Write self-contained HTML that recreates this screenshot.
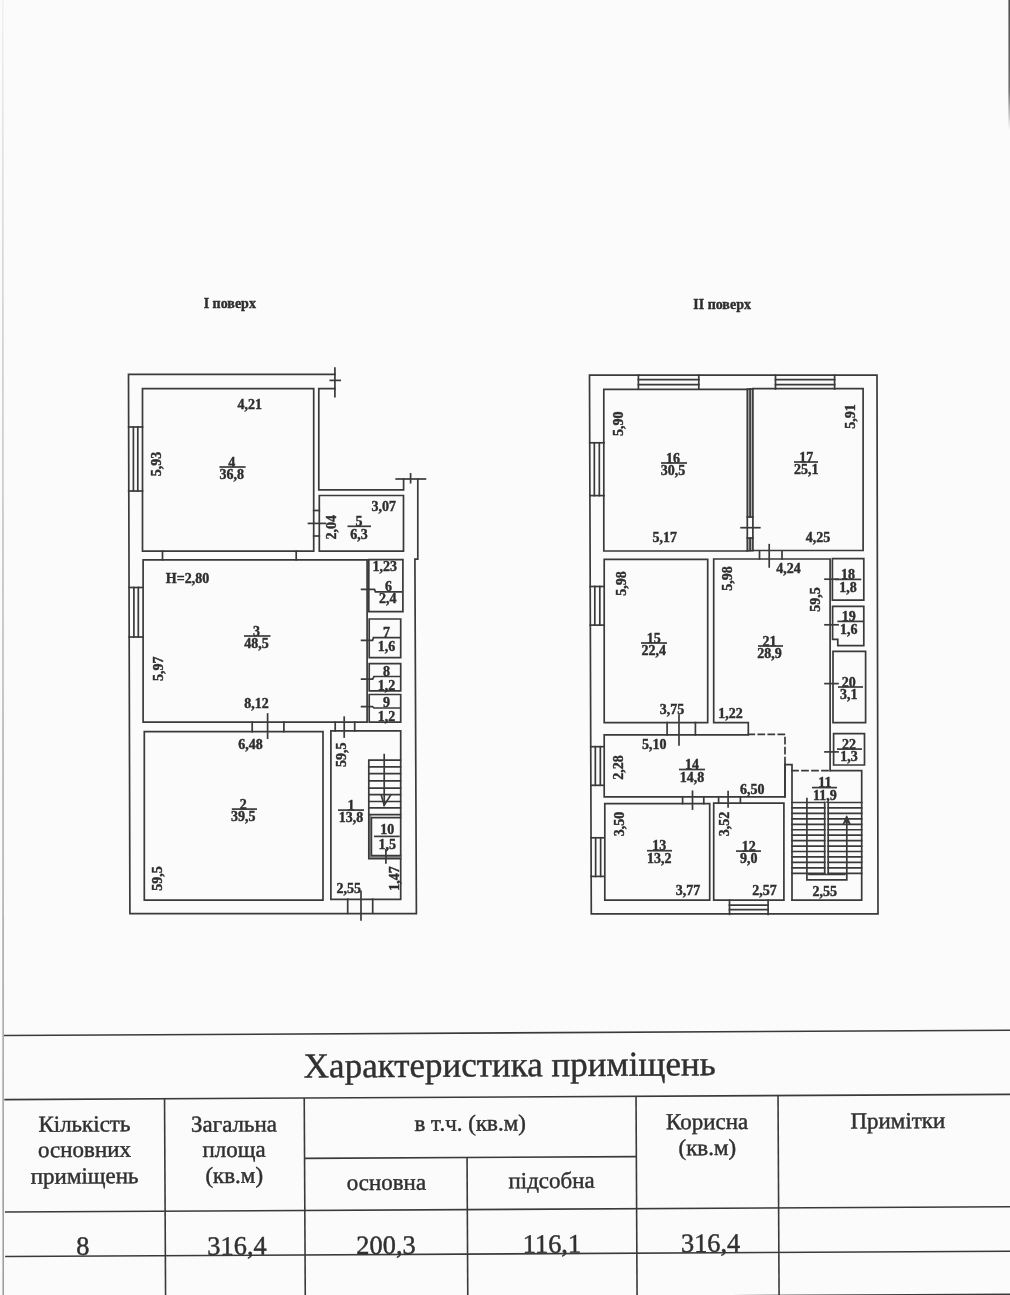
<!DOCTYPE html>
<html><head><meta charset="utf-8"><style>
html,body{margin:0;padding:0;background:#fbfbfb;}
body{width:1010px;height:1295px;overflow:hidden;position:relative;}
svg{position:absolute;left:0;top:0;display:block;will-change:transform;}
.pl line,.pl path{stroke:#3a3a3a;stroke-width:1.7;fill:none;stroke-linecap:square;}
.pt text{font-family:"Liberation Serif",serif;font-weight:bold;font-size:14px;fill:#2e2e2e;stroke:#2e2e2e;stroke-width:0.4px;}
.pt line,.pt path{stroke:#3a3a3a;stroke-width:1.7;fill:none;}
.tb line{stroke:#3a3a3a;stroke-width:1.6;}
.tt text{font-family:"Liberation Serif",serif;fill:#303030;stroke:#303030;stroke-width:0.45px;}
.tt2 text{font-family:"Liberation Serif",serif;fill:#2a2a2a;}
</style></head><body>
<svg width="1010" height="1295" viewBox="0 0 1010 1295">
<rect x="0" y="0" width="1010" height="1295" fill="#fbfbfb"/>
<defs><linearGradient id="lg" x1="0" y1="0" x2="0" y2="1295" gradientUnits="userSpaceOnUse"><stop offset="0" stop-color="#f0f0f0"/><stop offset="0.2" stop-color="#d0d0d0"/><stop offset="0.6" stop-color="#a8a8a8"/><stop offset="1" stop-color="#909090"/></linearGradient>
<linearGradient id="rg" x1="0" y1="0" x2="0" y2="130" gradientUnits="userSpaceOnUse"><stop offset="0" stop-color="#505050"/><stop offset="0.7" stop-color="#707070"/><stop offset="1" stop-color="#fbfbfb"/></linearGradient></defs>
<line x1="2.8" y1="0" x2="3.2" y2="1295" stroke="url(#lg)" stroke-width="1.4"/>
<rect x="1008.4" y="0" width="1.6" height="130" fill="url(#rg)"/>
<g class="pl">
<path d="M334.9,374.3H128.5L129.9,913.7H416.4L414.9,559.1H417.8V479" />
<line x1="334.9" y1="368" x2="334.9" y2="396.6"/>
<line x1="330.3" y1="380.4" x2="340.2" y2="380.4"/>
<path d="M334.9,388.7H318.8V489.8H403.6V479" />
<line x1="396.2" y1="479" x2="425.4" y2="479"/>
<line x1="410.6" y1="473.9" x2="410.6" y2="482.7"/>
<path d="M142.5,388.7H313.7V551.2H142.5Z" />
<line x1="128.7" y1="427" x2="142.5" y2="427"/>
<line x1="128.7" y1="491" x2="142.5" y2="491"/>
<line x1="133.4" y1="427" x2="133.4" y2="491" stroke-width="1.5"/>
<line x1="137.8" y1="427" x2="137.8" y2="491" stroke-width="1.5"/>
<path d="M319.3,495.5H403.5V551.2H319.3Z" />
<line x1="313.7" y1="510.5" x2="319.3" y2="510.5"/>
<line x1="313.7" y1="536" x2="319.3" y2="536"/>
<line x1="308.5" y1="523.4" x2="325.3" y2="523.4"/>
<line x1="162.5" y1="551.2" x2="162.5" y2="559.8"/>
<line x1="296.2" y1="551.2" x2="296.2" y2="559.8"/>
<path d="M143.1,559.8H367.1V722.2H143.1Z" />
<line x1="129.2" y1="587.5" x2="143.1" y2="587.5"/>
<line x1="129.2" y1="637" x2="143.1" y2="637"/>
<line x1="133.9" y1="587.5" x2="133.9" y2="637" stroke-width="1.5"/>
<line x1="138.3" y1="587.5" x2="138.3" y2="637" stroke-width="1.5"/>
<path d="M368.8,559.6H402.9V611.7H368.8Z" />
<path d="M369.2,619H400.7V657.7H369.2Z" />
<path d="M369.2,663.7H400.7V690.9H369.2Z" />
<path d="M369.2,694.5H400.7V722.2H369.2Z" />
<path d="M361.6,589.4H374.5L375.4,591.8H401.2" fill="none"/>
<path d="M361.6,640.4H372.6L373.4,637.7H399.7" fill="none"/>
<path d="M361.6,679.1H372.6L374,676.5H399.7" fill="none"/>
<path d="M361.6,706.7H372.6L374,708H399.7" fill="none"/>
<line x1="252.2" y1="722.2" x2="252.2" y2="731.7"/>
<line x1="283.9" y1="722.2" x2="283.9" y2="731.7"/>
<line x1="267.6" y1="714" x2="267.6" y2="738.2"/>
<line x1="335.2" y1="722.2" x2="335.2" y2="731"/>
<line x1="354.7" y1="722.2" x2="354.7" y2="731"/>
<line x1="344.2" y1="717.2" x2="344.2" y2="737"/>
<path d="M144.3,731.7H323V900.2H144.3Z" />
<path d="M330.9,730.9H400.7V899.3H330.9Z" />
<path d="M368.8,814.6H371.4V855.7H400.5V858.7H368.8Z" style="fill:#9a9a9a;stroke:none"/>
<path d="M400.5,760.2H368.8V858.7H400.5" fill="none"/>
<line x1="368.8" y1="766.8" x2="400.5" y2="766.8"/>
<line x1="368.8" y1="773.6" x2="400.5" y2="773.6"/>
<line x1="368.8" y1="780.9" x2="400.5" y2="780.9"/>
<line x1="368.8" y1="788.1" x2="400.5" y2="788.1"/>
<line x1="368.8" y1="794.7" x2="400.5" y2="794.7"/>
<line x1="368.8" y1="801.5" x2="400.5" y2="801.5"/>
<line x1="368.8" y1="807.8" x2="400.5" y2="807.8"/>
<line x1="368.8" y1="814.6" x2="400.5" y2="814.6"/>
<path d="M400.5,817.6H371.4V855.7H400.5" fill="none"/>
<line x1="384.2" y1="754.6" x2="384.2" y2="805.2"/>
<path d="M381.3,795.3L384.2,805.2L390.5,795.3" fill="none"/>
<line x1="385.9" y1="849.8" x2="385.9" y2="863"/>
<line x1="347.7" y1="899.3" x2="347.7" y2="913.3"/>
<line x1="372.7" y1="899.3" x2="372.7" y2="913.3"/>
<line x1="361" y1="891.3" x2="361" y2="920"/>
<rect x="747.3" y="389" width="5.6" height="161.5" fill="#b4b4b4" stroke="none" style="stroke:none"/>
<rect x="747.3" y="517" width="5.6" height="21.1" fill="#fbfbfb" stroke="none" style="stroke:none"/>
<path d="M589.5,375.2H877L878,913.8H591.3Z" />
<path d="M603.8,389.3H747.3V551H603.8Z" />
<path d="M752.9,388.7H863.1V550.5H752.9Z" />
<line x1="747.3" y1="389.2" x2="752.9" y2="389"/>
<line x1="747.3" y1="550.9" x2="752.9" y2="550.6"/>
<line x1="750.1" y1="389" x2="750.1" y2="517"/>
<line x1="750.1" y1="538.1" x2="750.1" y2="550.5"/>
<line x1="747.3" y1="517" x2="752.9" y2="517"/>
<line x1="747.3" y1="538.1" x2="752.9" y2="538.1"/>
<line x1="741.1" y1="527.7" x2="759.8" y2="527.7"/>
<line x1="638.4" y1="375.2" x2="638.4" y2="389"/>
<line x1="698.8" y1="375.2" x2="698.8" y2="389"/>
<line x1="638.4" y1="379.7" x2="698.8" y2="379.7" stroke-width="1.5"/>
<line x1="638.4" y1="384.6" x2="698.8" y2="384.6" stroke-width="1.5"/>
<line x1="775.5" y1="375.2" x2="775.5" y2="389"/>
<line x1="834.6" y1="375.2" x2="834.6" y2="389"/>
<line x1="775.5" y1="379.7" x2="834.6" y2="379.7" stroke-width="1.5"/>
<line x1="775.5" y1="384.6" x2="834.6" y2="384.6" stroke-width="1.5"/>
<line x1="589.73" y1="442.8" x2="604" y2="442.8"/>
<line x1="589.9" y1="495.6" x2="604" y2="495.6"/>
<line x1="594.33" y1="442.8" x2="594.33" y2="495.6" stroke-width="1.5"/>
<line x1="599.33" y1="442.8" x2="599.33" y2="495.6" stroke-width="1.5"/>
<line x1="590.21" y1="586.5" x2="604" y2="586.5"/>
<line x1="590.33" y1="625.1" x2="604" y2="625.1"/>
<line x1="594.81" y1="586.5" x2="594.81" y2="625.1" stroke-width="1.5"/>
<line x1="599.81" y1="586.5" x2="599.81" y2="625.1" stroke-width="1.5"/>
<line x1="590.74" y1="746.7" x2="604" y2="746.7"/>
<line x1="590.87" y1="785.3" x2="604" y2="785.3"/>
<line x1="595.34" y1="746.7" x2="595.34" y2="785.3" stroke-width="1.5"/>
<line x1="600.34" y1="746.7" x2="600.34" y2="785.3" stroke-width="1.5"/>
<line x1="591.04" y1="837.8" x2="604" y2="837.8"/>
<line x1="591.17" y1="876.4" x2="604" y2="876.4"/>
<line x1="595.64" y1="837.8" x2="595.64" y2="876.4" stroke-width="1.5"/>
<line x1="600.64" y1="837.8" x2="600.64" y2="876.4" stroke-width="1.5"/>
<line x1="759.5" y1="551" x2="759.5" y2="558.9"/>
<line x1="782" y1="551" x2="782" y2="558.9"/>
<line x1="769.2" y1="544.7" x2="769.2" y2="566.9"/>
<path d="M604.2,559.4H707.7V722.6H604.2Z" />
<path d="M748.3,734V722.6H713.7V559H830.1V770.6" fill="none"/>
<line x1="667.1" y1="722.6" x2="667.1" y2="734.9"/>
<line x1="695.4" y1="722.6" x2="695.4" y2="734.9"/>
<line x1="679" y1="715.2" x2="679" y2="744.8"/>
<path d="M748.3,734.9H604.2V796.8H785V764.4" fill="none"/>
<path d="M748.3,734.4H785V764.4" fill="none" stroke-dasharray="6,4"/>
<path d="M785,796.8V764.6H792V900.2" fill="none"/>
<path d="M792,770.6H830.5" fill="none" stroke-dasharray="6,4"/>
<path d="M830.5,770.6H861.7V900.2H792" fill="none"/>
<path d="M604.8,803.6H709.7V900.2H604.8Z" />
<path d="M713.7,803.2H783.9V900.2H713.7Z" />
<line x1="682.6" y1="796.8" x2="682.6" y2="803.6"/>
<line x1="703.8" y1="796.8" x2="703.8" y2="803.6"/>
<line x1="692.5" y1="791.3" x2="692.5" y2="809.1"/>
<line x1="718.6" y1="796.8" x2="718.6" y2="803.2"/>
<line x1="740.4" y1="796.8" x2="740.4" y2="803.2"/>
<line x1="728.1" y1="791.7" x2="728.1" y2="807"/>
<line x1="729.5" y1="900.2" x2="729.5" y2="914.3"/>
<line x1="768.1" y1="900.2" x2="768.1" y2="914.3"/>
<line x1="729.5" y1="905.2" x2="768.1" y2="905.2" stroke-width="1.5"/>
<line x1="729.5" y1="909.6" x2="768.1" y2="909.6" stroke-width="1.5"/>
<path d="M832.4,558.6H863.8V600.2H832.4Z" />
<path d="M832.6,639.3V606.3H863.8V645.6H837.8V639.3Z" fill="none"/>
<path d="M833,651.3H865.6V722.6H833Z" />
<path d="M833.6,733.6H864.5V765H833.6Z" />
<line x1="825" y1="579.2" x2="838" y2="579.2"/>
<line x1="825" y1="624.8" x2="838" y2="624.8"/>
<line x1="825" y1="683.6" x2="838" y2="683.6"/>
<line x1="825" y1="751.9" x2="838" y2="751.9"/>
<line x1="792" y1="802.5" x2="824.7" y2="802.5"/>
<line x1="828.2" y1="802.5" x2="861.7" y2="802.5"/>
<line x1="792" y1="807.9461538461538" x2="824.7" y2="807.9461538461538"/>
<line x1="828.2" y1="807.9461538461538" x2="861.7" y2="807.9461538461538"/>
<line x1="792" y1="813.3923076923077" x2="824.7" y2="813.3923076923077"/>
<line x1="828.2" y1="813.3923076923077" x2="861.7" y2="813.3923076923077"/>
<line x1="792" y1="818.8384615384615" x2="824.7" y2="818.8384615384615"/>
<line x1="828.2" y1="818.8384615384615" x2="861.7" y2="818.8384615384615"/>
<line x1="792" y1="824.2846153846153" x2="824.7" y2="824.2846153846153"/>
<line x1="828.2" y1="824.2846153846153" x2="861.7" y2="824.2846153846153"/>
<line x1="792" y1="829.7307692307692" x2="824.7" y2="829.7307692307692"/>
<line x1="828.2" y1="829.7307692307692" x2="861.7" y2="829.7307692307692"/>
<line x1="792" y1="835.176923076923" x2="824.7" y2="835.176923076923"/>
<line x1="828.2" y1="835.176923076923" x2="861.7" y2="835.176923076923"/>
<line x1="792" y1="840.623076923077" x2="824.7" y2="840.623076923077"/>
<line x1="828.2" y1="840.623076923077" x2="861.7" y2="840.623076923077"/>
<line x1="792" y1="846.0692307692308" x2="824.7" y2="846.0692307692308"/>
<line x1="828.2" y1="846.0692307692308" x2="861.7" y2="846.0692307692308"/>
<line x1="792" y1="851.5153846153846" x2="824.7" y2="851.5153846153846"/>
<line x1="828.2" y1="851.5153846153846" x2="861.7" y2="851.5153846153846"/>
<line x1="792" y1="856.9615384615385" x2="824.7" y2="856.9615384615385"/>
<line x1="828.2" y1="856.9615384615385" x2="861.7" y2="856.9615384615385"/>
<line x1="792" y1="862.4076923076923" x2="824.7" y2="862.4076923076923"/>
<line x1="828.2" y1="862.4076923076923" x2="861.7" y2="862.4076923076923"/>
<line x1="792" y1="867.8538461538461" x2="824.7" y2="867.8538461538461"/>
<line x1="828.2" y1="867.8538461538461" x2="861.7" y2="867.8538461538461"/>
<line x1="792" y1="873.3" x2="824.7" y2="873.3"/>
<line x1="828.2" y1="873.3" x2="861.7" y2="873.3"/>
<line x1="824.7" y1="802.5" x2="824.7" y2="873.3"/>
<line x1="828.2" y1="802.5" x2="828.2" y2="873.3"/>
<path d="M806.9,798.5V879.9H846.8V818" fill="none"/>
<line x1="809" y1="874.5" x2="844.7" y2="874.5" stroke-width="1.2"/>
<path d="M843,824.4L846.7,815.8L850.4,824.4L846.7,821.5Z" style="fill:#3a3a3a;stroke-width:1"/>
</g>
<g class="pt">
<text x="229.8" y="307.5" text-anchor="middle" font-size="14.3">I поверх</text>
<text x="722.1" y="308.5" text-anchor="middle" font-size="14.3">II поверх</text>
<text x="231.8" y="466.5" text-anchor="middle">4</text>
<line x1="219.4" y1="467" x2="245.6" y2="467"/>
<text x="231.8" y="479.2" text-anchor="middle">36,8</text>
<text x="249.7" y="409" text-anchor="middle">4,21</text>
<text x="160.5" y="464" text-anchor="middle" transform="rotate(-90 160.5 464)">5,93</text>
<text x="359" y="525.8" text-anchor="middle">5</text>
<line x1="347.5" y1="526.3" x2="371" y2="526.3"/>
<text x="359" y="538.5" text-anchor="middle">6,3</text>
<text x="383.8" y="510.5" text-anchor="middle">3,07</text>
<text x="336.3" y="527.3" text-anchor="middle" transform="rotate(-90 336.3 527.3)">2,04</text>
<text x="187.5" y="583.2" text-anchor="middle">H=2,80</text>
<text x="256.6" y="635.5" text-anchor="middle">3</text>
<line x1="244" y1="636" x2="270.5" y2="636"/>
<text x="256.6" y="648.2" text-anchor="middle">48,5</text>
<text x="162.6" y="668.7" text-anchor="middle" transform="rotate(-90 162.6 668.7)">5,97</text>
<text x="256.6" y="708.3" text-anchor="middle">8,12</text>
<text x="384.8" y="571.4" text-anchor="middle">1,23</text>
<text x="388.5" y="590.5" text-anchor="middle">6</text>
<text x="387.7" y="603" text-anchor="middle">2,4</text>
<text x="386.5" y="636.5" text-anchor="middle">7</text>
<text x="386.5" y="650.5" text-anchor="middle">1,6</text>
<text x="386.5" y="675.5" text-anchor="middle">8</text>
<text x="386.5" y="689.5" text-anchor="middle">1,2</text>
<text x="386.5" y="707" text-anchor="middle">9</text>
<text x="386.5" y="721" text-anchor="middle">1,2</text>
<text x="250.6" y="748.7" text-anchor="middle">6,48</text>
<text x="243.3" y="808.6" text-anchor="middle">2</text>
<line x1="231.8" y1="809.1" x2="257" y2="809.1"/>
<text x="243.3" y="821.3000000000001" text-anchor="middle">39,5</text>
<text x="162.0" y="878.4" text-anchor="middle" transform="rotate(-90 162.0 878.4)">59,5</text>
<text x="346.2" y="754.7" text-anchor="middle" transform="rotate(-90 346.2 754.7)">59,5</text>
<text x="351.1" y="809.6" text-anchor="middle">1</text>
<line x1="338" y1="810.1" x2="364" y2="810.1"/>
<text x="351.1" y="822.3000000000001" text-anchor="middle">13,8</text>
<text x="387.2" y="834" text-anchor="middle">10</text>
<text x="387.2" y="848.5" text-anchor="middle">1,5</text>
<line x1="374" y1="836.4" x2="399.7" y2="836.4"/>
<text x="398.7" y="878.4" text-anchor="middle" transform="rotate(-90 398.7 878.4)">1,47</text>
<text x="348.7" y="893.3" text-anchor="middle">2,55</text>
<text x="622.6" y="423.8" text-anchor="middle" transform="rotate(-90 622.6 423.8)">5,90</text>
<text x="673.1" y="462.5" text-anchor="middle">16</text>
<line x1="661" y1="463" x2="687" y2="463"/>
<text x="673.1" y="475.2" text-anchor="middle">30,5</text>
<text x="664.8" y="541.8" text-anchor="middle">5,17</text>
<text x="854.8" y="416.4" text-anchor="middle" transform="rotate(-90 854.8 416.4)">5,91</text>
<text x="806.2" y="461.5" text-anchor="middle">17</text>
<line x1="794" y1="462" x2="818" y2="462"/>
<text x="806.2" y="474.2" text-anchor="middle">25,1</text>
<text x="818.1" y="542.2" text-anchor="middle">4,25</text>
<text x="625.6" y="583.6" text-anchor="middle" transform="rotate(-90 625.6 583.6)">5,98</text>
<text x="653.7" y="642.5" text-anchor="middle">15</text>
<line x1="641" y1="643" x2="667" y2="643"/>
<text x="653.7" y="655.2" text-anchor="middle">22,4</text>
<text x="732.5" y="578.6" text-anchor="middle" transform="rotate(-90 732.5 578.6)">5,98</text>
<text x="769.6" y="645.5" text-anchor="middle">21</text>
<line x1="758" y1="646" x2="783" y2="646"/>
<text x="769.6" y="658.2" text-anchor="middle">28,9</text>
<text x="788.4" y="572.7" text-anchor="middle">4,24</text>
<text x="820.5" y="599.4" text-anchor="middle" transform="rotate(-90 820.5 599.4)">59,5</text>
<text x="672.1" y="713.9" text-anchor="middle">3,75</text>
<text x="730.5" y="717.8" text-anchor="middle">1,22</text>
<text x="848" y="578.9" text-anchor="middle">18</text>
<line x1="835" y1="579.4" x2="861.3" y2="579.4"/>
<text x="848" y="591.6" text-anchor="middle">1,8</text>
<text x="848.8" y="620.9" text-anchor="middle">19</text>
<line x1="837.3" y1="621.4" x2="863.7" y2="621.4"/>
<text x="848.8" y="633.6" text-anchor="middle">1,6</text>
<text x="848.8" y="686.5" text-anchor="middle">20</text>
<line x1="838" y1="687" x2="863" y2="687"/>
<text x="848.8" y="699.2" text-anchor="middle">3,1</text>
<text x="849" y="748.6" text-anchor="middle">22</text>
<line x1="837" y1="749.1" x2="862" y2="749.1"/>
<text x="849" y="761.3000000000001" text-anchor="middle">1,3</text>
<text x="654.3" y="748.7" text-anchor="middle">5,10</text>
<text x="623.0" y="767.5" text-anchor="middle" transform="rotate(-90 623.0 767.5)">2,28</text>
<text x="691.9" y="769.0" text-anchor="middle">14</text>
<line x1="679" y1="769.5" x2="705" y2="769.5"/>
<text x="691.9" y="781.7" text-anchor="middle">14,8</text>
<text x="752.3" y="793.7" text-anchor="middle">6,50</text>
<text x="623.6" y="824" text-anchor="middle" transform="rotate(-90 623.6 824)">3,50</text>
<text x="729.2" y="824" text-anchor="middle" transform="rotate(-90 729.2 824)">3,52</text>
<text x="659.2" y="850.2" text-anchor="middle">13</text>
<line x1="647" y1="850.7" x2="672" y2="850.7"/>
<text x="659.2" y="862.9000000000001" text-anchor="middle">13,2</text>
<text x="748.7" y="850.6" text-anchor="middle">12</text>
<line x1="736" y1="851.1" x2="761" y2="851.1"/>
<text x="748.7" y="863.3000000000001" text-anchor="middle">9,0</text>
<text x="687.9" y="895.2" text-anchor="middle">3,77</text>
<text x="764.6" y="895.2" text-anchor="middle">2,57</text>
<text x="824.8" y="787.1" text-anchor="middle">11</text>
<line x1="812" y1="787.6" x2="837" y2="787.6"/>
<text x="824.8" y="799.8000000000001" text-anchor="middle">11,9</text>
<text x="824.7" y="896.4" text-anchor="middle">2,55</text>
</g>
<g transform="rotate(-0.3 5 1035.5)">
<g class="tb">
<line x1="4" y1="1035.5" x2="1015" y2="1035.5"/>
<line x1="4" y1="1099.6" x2="1015" y2="1099.6"/>
<line x1="303.9" y1="1159.9" x2="635.7" y2="1159.9"/>
<line x1="4" y1="1212" x2="1015" y2="1212"/>
<line x1="4" y1="1256.5" x2="1015" y2="1256.5"/>
<line x1="4" y1="1299.6" x2="1015" y2="1299.6"/>
<line x1="164.2" y1="1099.6" x2="164.2" y2="1310"/>
<line x1="303.9" y1="1099.6" x2="303.9" y2="1310"/>
<line x1="466.4" y1="1159.9" x2="466.4" y2="1310"/>
<line x1="635.7" y1="1099.6" x2="635.7" y2="1310"/>
<line x1="777.7" y1="1099.6" x2="777.7" y2="1310"/>
</g>
<g class="tt">
<text x="509.5" y="1079" text-anchor="middle" font-size="35">Характеристика приміщень</text>
<text x="83.9" y="1131.9" text-anchor="middle" font-size="23">Кількість</text>
<text x="83.9" y="1157.4" text-anchor="middle" font-size="23">основних</text>
<text x="83.9" y="1183.9" text-anchor="middle" font-size="23">приміщень</text>
<text x="233.5" y="1132.8" text-anchor="middle" font-size="23">Загальна</text>
<text x="233.5" y="1158.1" text-anchor="middle" font-size="23">площа</text>
<text x="233.5" y="1184.1" text-anchor="middle" font-size="23">(кв.м)</text>
<text x="469.7" y="1133.1" text-anchor="middle" font-size="23">в т.ч. (кв.м)</text>
<text x="385.6" y="1191.8" text-anchor="middle" font-size="23">основна</text>
<text x="550.8" y="1190.9" text-anchor="middle" font-size="23">підсобна</text>
<text x="706.7" y="1132.8" text-anchor="middle" font-size="23">Корисна</text>
<text x="706.7" y="1158.8" text-anchor="middle" font-size="23">(кв.м)</text>
<text x="897.4" y="1132.9" text-anchor="middle" font-size="23">Примітки</text>
<text x="81.7" y="1255.2" text-anchor="middle" font-size="26.4">8</text>
<text x="235.9" y="1255.8" text-anchor="middle" font-size="26.4">316,4</text>
<text x="384.9" y="1255.8" text-anchor="middle" font-size="26.4">200,3</text>
<text x="550.8" y="1255.5" text-anchor="middle" font-size="26.4">116,1</text>
<text x="709.5" y="1255.5" text-anchor="middle" font-size="26.4">316,4</text>
</g>
</g>
</svg>
</body></html>
